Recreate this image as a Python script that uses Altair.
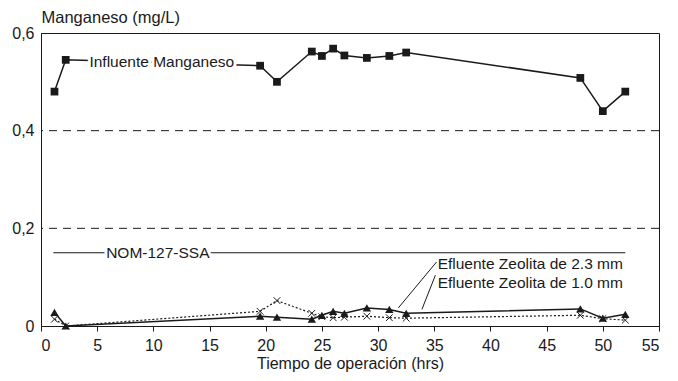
import altair as alt
import pandas as pd

# Data
t = [1.2, 2.2, 19.5, 21.0, 24.1, 25.0, 26.0, 27.0, 29.0, 31.0, 32.5, 48.0, 50.0, 52.0]
influent = [0.48, 0.545, 0.533, 0.50, 0.562, 0.553, 0.568, 0.554, 0.549, 0.553, 0.56, 0.508, 0.44, 0.48]
eff23 = [0.028, 0.0, 0.02, 0.018, 0.014, 0.022, 0.03, 0.026, 0.037, 0.034, 0.026, 0.035, 0.016, 0.024]
eff10 = [0.014, 0.0, 0.03, 0.052, 0.026, 0.019, 0.017, 0.018, 0.02, 0.017, 0.016, 0.022, 0.015, 0.012]

nom_value = 0.15
nom_x = [1.1, 52.0]

x_ticks = [0, 5, 10, 15, 20, 25, 30, 35, 40, 45, 50, 55]
y_ticks = [0, 0.2, 0.4, 0.6]
grid_vals = [0.2, 0.4]

inline_labels = pd.DataFrame({
    "x": [10.75, 10.4],
    "y": [0.54, 0.15],
    "text": ["Influente Manganeso", "NOM-127-SSA"],
})
side_labels = pd.DataFrame({
    "x": [35.3, 35.3],
    "y": [0.126, 0.089],
    "text": ["Efluente Zeolita de 2.3 mm", "Efluente Zeolita de 1.0 mm"],
})
leaders = pd.DataFrame({
    "x": [35.2, 35.1], "y": [0.131, 0.104],
    "x2": [31.8, 33.9], "y2": [0.037, 0.034],
})

FONT = "Liberation Sans"
INK = "#1a1a1a"

df = pd.DataFrame({"t": t, "inf": influent, "e23": eff23, "e10": eff10})

xs = alt.Scale(domain=[0, 55], nice=False)
ys = alt.Scale(domain=[0, 0.6], nice=False)

X = alt.X("t:Q", scale=xs, axis=alt.Axis(
    values=x_ticks, title="Tiempo de operación (hrs)", grid=False,
    tickSize=5, labelFontSize=16, titleFontSize=16, labelPadding=6,
    titlePadding=2, domainColor=INK, tickColor=INK, labelColor=INK,
    titleColor=INK, titleFontWeight="normal", labelFont=FONT, titleFont=FONT))
Y_axis = alt.Axis(
    values=y_ticks, title="Manganeso (mg/L)", grid=False, tickSize=0,
    labelFontSize=16, titleFontSize=16.5, labelPadding=7,
    labelExpr="replace(format(datum.value, '.1~f'), '.', ',')",
    titleAngle=0, titleX=0, titleY=-16, titleAlign="left",
    titleBaseline="middle", domainColor=INK, labelColor=INK, titleColor=INK,
    titleFontWeight="normal", labelFont=FONT, titleFont=FONT)

base = alt.Chart(df)

grid = alt.Chart(pd.DataFrame({"g": grid_vals})).mark_rule(
    color=INK, strokeDash=[8, 6], strokeWidth=1
).encode(y=alt.Y("g:Q", scale=ys, axis=Y_axis))

nom = alt.Chart(pd.DataFrame({"x": [nom_x[0]], "x2": [nom_x[1]], "y": [nom_value]})).mark_rule(
    color=INK, strokeWidth=1
).encode(x=alt.X("x:Q", scale=xs), x2="x2:Q", y=alt.Y("y:Q", scale=ys))

inf_line = base.mark_line(color=INK, strokeWidth=1.5).encode(x=X, y=alt.Y("inf:Q", scale=ys))
inf_pts = base.mark_point(shape="square", filled=True, size=60, color=INK, opacity=1).encode(
    x="t:Q", y=alt.Y("inf:Q", scale=ys))

e23_line = base.mark_line(color=INK, strokeWidth=1.5).encode(x="t:Q", y=alt.Y("e23:Q", scale=ys))
e23_pts = base.mark_point(shape="triangle-up", filled=True, size=70, color=INK, opacity=1).encode(
    x="t:Q", y=alt.Y("e23:Q", scale=ys))

e10_line = base.mark_line(color=INK, strokeWidth=1.2, strokeDash=[2, 2]).encode(
    x="t:Q", y=alt.Y("e10:Q", scale=ys))
e10_pts = base.mark_point(shape="M-1,-1L1,1M-1,1L1,-1", filled=False, size=45, color=INK,
                          strokeWidth=1, opacity=1).encode(x="t:Q", y=alt.Y("e10:Q", scale=ys))

lead = alt.Chart(leaders).mark_rule(color=INK, strokeWidth=1).encode(
    x=alt.X("x:Q", scale=xs), y=alt.Y("y:Q", scale=ys), x2="x2:Q", y2="y2:Q")

halo = alt.Chart(inline_labels).mark_text(
    font=FONT, fontSize=15.5, stroke="white", strokeWidth=6, fill="white",
    baseline="middle", align="center"
).encode(x=alt.X("x:Q", scale=xs), y=alt.Y("y:Q", scale=ys), text="text:N")

txt_inline = alt.Chart(inline_labels).mark_text(
    font=FONT, fontSize=15.5, color=INK, baseline="middle", align="center"
).encode(x=alt.X("x:Q", scale=xs), y=alt.Y("y:Q", scale=ys), text="text:N")

txt_side = alt.Chart(side_labels).mark_text(
    font=FONT, fontSize=15.5, color=INK, baseline="middle", align="left"
).encode(x=alt.X("x:Q", scale=xs), y=alt.Y("y:Q", scale=ys), text="text:N")

chart = alt.layer(
    grid, nom, e10_line, e23_line, inf_line, lead, halo, txt_inline, txt_side,
    inf_pts, e23_pts, e10_pts
).properties(
    width=618, height=293,
    autosize=alt.AutoSizeParams(type="none"),
    padding={"left": 33, "top": 25, "right": 9, "bottom": 50},
).configure(background="white", view=alt.ViewConfig(stroke=INK, strokeWidth=1))

chart.save("out.html", embed_options={"renderer": "svg", "actions": False})
